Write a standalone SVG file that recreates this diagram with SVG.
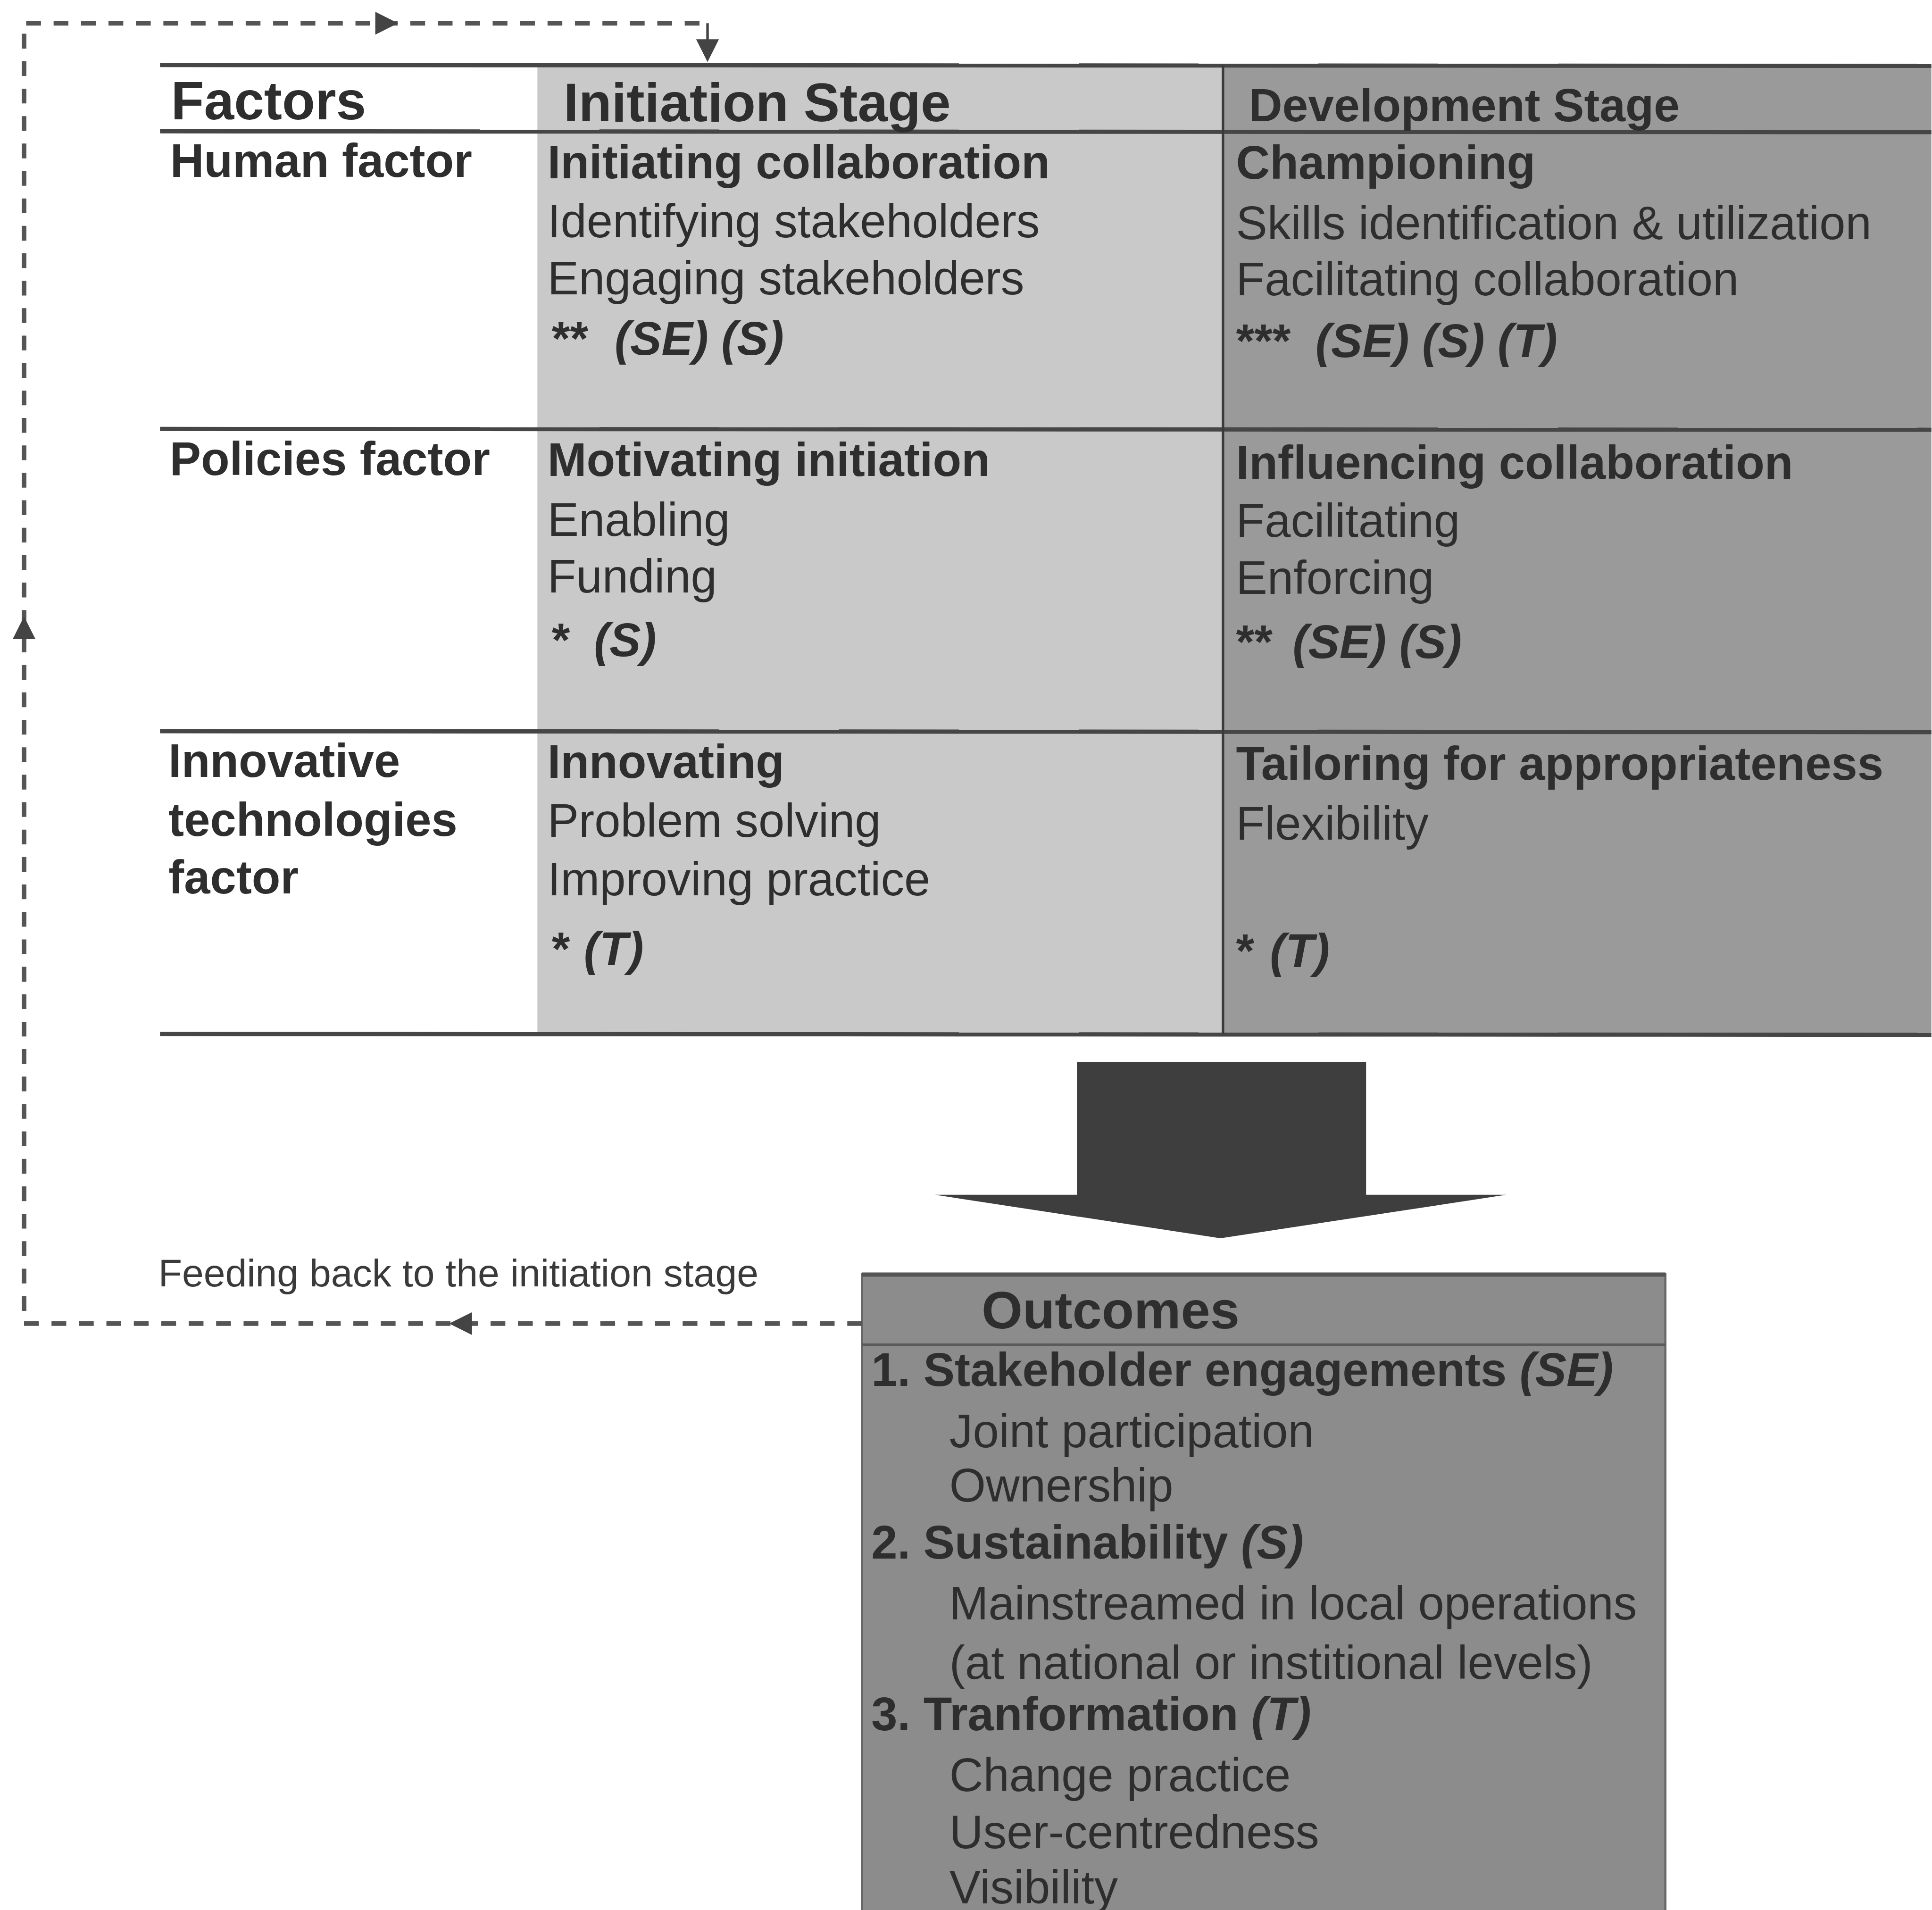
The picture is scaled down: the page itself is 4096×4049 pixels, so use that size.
<svg xmlns="http://www.w3.org/2000/svg" xmlns:xlink="http://www.w3.org/1999/xlink" width="4096" height="4049" viewBox="0 0 4096 4049">
<style>
.t{font-family:"Liberation Sans",Arial,Helvetica,sans-serif;font-size:111px;fill:#2e2e2e}
.b{font-weight:bold}
.i{font-style:italic;font-weight:bold}
.h{font-size:128px;font-weight:bold}
.hs{font-size:110px;font-weight:bold}
.fb{font-size:92px;fill:#3a3a3a}
.rule{stroke:#464646;stroke-width:10;fill:none}
.dash{stroke:#555;stroke-width:11;fill:none;stroke-dasharray:35 30}
.ah{fill:#444}
</style>
<defs>
<path id="ah" d="M0 0 L-54 -27 L-54 27 Z"/>
</defs>
<rect width="4096" height="4049" fill="#fff"/>
<g transform="scale(0.895)">

<g id="initiation-stage">
<rect x="1273" y="153" width="1624" height="2296" fill="#c9c9c9"/>
</g>
<g id="development-stage">
<rect x="2897" y="155" width="1678" height="2294" fill="#9a9a9a"/>
</g>

<g id="table-rules">
<line class="rule" x1="379" y1="154" x2="4575" y2="156"/>
<line class="rule" x1="379" y1="311" x2="4575" y2="313"/>
<line class="rule" x1="379" y1="1016" x2="4575" y2="1018"/>
<line class="rule" x1="379" y1="1732" x2="4575" y2="1734"/>
<line class="rule" x1="379" y1="2449" x2="4575" y2="2451"/>
<line x1="2897" y1="155" x2="2897" y2="2449" stroke="#3a3a3a" stroke-width="6"/>
</g>

<g id="header">
<text class="t h" x="405" y="283">Factors</text>
<text class="t h" x="1335" y="287">Initiation Stage</text>
<text class="t hs" x="2958" y="287">Development Stage</text>
</g>

<g id="row-human">
<text class="t b" x="403" y="419">Human factor</text>
<text class="t b" x="1297" y="422">Initiating collaboration</text>
<text class="t" x="1297" y="562">Identifying stakeholders</text>
<text class="t" x="1297" y="697">Engaging stakeholders</text>
<text class="t b" x="1307" y="840">**<tspan class="i" x="1456">(SE) (S)</tspan></text>
<text class="t b" x="2928" y="424">Championing</text>
<text class="t" x="2928" y="566">Skills identification &amp; utilization</text>
<text class="t" x="2928" y="699">Facilitating collaboration</text>
<text class="t b" x="2928" y="846">***<tspan class="i" x="3116">(SE) (S) (T)</tspan></text>
</g>

<g id="row-policies">
<text class="t b" x="402" y="1125">Policies factor</text>
<text class="t b" x="1297" y="1127">Motivating initiation</text>
<text class="t" x="1297" y="1269">Enabling</text>
<text class="t" x="1297" y="1403">Funding</text>
<text class="t b" x="1307" y="1554">*<tspan class="i" x="1407">(S)</tspan></text>
<text class="t b" x="2928" y="1134">Influencing collaboration</text>
<text class="t" x="2928" y="1272">Facilitating</text>
<text class="t" x="2928" y="1407">Enforcing</text>
<text class="t b" x="2928" y="1559">**<tspan class="i" x="3062">(SE) (S)</tspan></text>
</g>

<g id="row-innovative">
<text class="t b" x="399" y="1840">Innovative</text>
<text class="t b" x="399" y="1980">technologies</text>
<text class="t b" x="399" y="2116">factor</text>
<text class="t b" x="1297" y="1843">Innovating</text>
<text class="t" x="1297" y="1982">Problem solving</text>
<text class="t" x="1297" y="2121">Improving practice</text>
<text class="t b" x="1307" y="2286">*<tspan class="i" x="1383">(T)</tspan></text>
<text class="t b" x="2928" y="1847">Tailoring for appropriateness</text>
<text class="t" x="2928" y="1989">Flexibility</text>
<text class="t b" x="2928" y="2291">*<tspan class="i" x="3008">(T)</tspan></text>
</g>

<g id="outcomes">
<rect x="2042" y="3017" width="1903" height="1510" fill="#8c8c8c" stroke="#666" stroke-width="5"/>
<line x1="2042" y1="3019" x2="3945" y2="3019" stroke="#555" stroke-width="10"/>
<line x1="2042" y1="3185" x2="3945" y2="3185" stroke="#5a5a5a" stroke-width="6"/>
<text class="t b" x="2325" y="3146" style="font-size:125px">Outcomes</text>
<text class="t b" x="2064" y="3283">1. Stakeholder engagements <tspan class="i">(SE)</tspan></text>
<text class="t" x="2249" y="3428">Joint participation</text>
<text class="t" x="2249" y="3556">Ownership</text>
<text class="t b" x="2064" y="3692">2. Sustainability <tspan class="i">(S)</tspan></text>
<text class="t" x="2249" y="3836">Mainstreamed in local operations</text>
<text class="t" x="2249" y="3976">(at national or institional levels)</text>
<text class="t b" x="2064" y="4098">3. Tranformation <tspan class="i">(T)</tspan></text>
<text class="t" x="2249" y="4242">Change practice</text>
<text class="t" x="2249" y="4378">User-centredness</text>
<text class="t" x="2249" y="4508">Visibility</text>
</g>

<g id="connectors">
<polygon points="2551,2515 3236,2515 3236,2830 3568,2830 2891,2933 2215,2830 2551,2830" fill="#3e3e3e"/>
<path class="dash" d="M2042 3135 H57 V55 H1676"/>
<line x1="1676" y1="55" x2="1676" y2="95" stroke="#444" stroke-width="6"/>
<use href="#ah" xlink:href="#ah" class="ah" transform="translate(943,55)"/>
<use href="#ah" xlink:href="#ah" class="ah" transform="translate(1676,147) rotate(90)"/>
<use href="#ah" xlink:href="#ah" class="ah" transform="translate(57,1460) rotate(-90)"/>
<use href="#ah" xlink:href="#ah" class="ah" transform="translate(1064,3135) rotate(180)"/>
<text class="t fb" x="375" y="3047">Feeding back to the initiation stage</text>
</g>

</g>
</svg>
